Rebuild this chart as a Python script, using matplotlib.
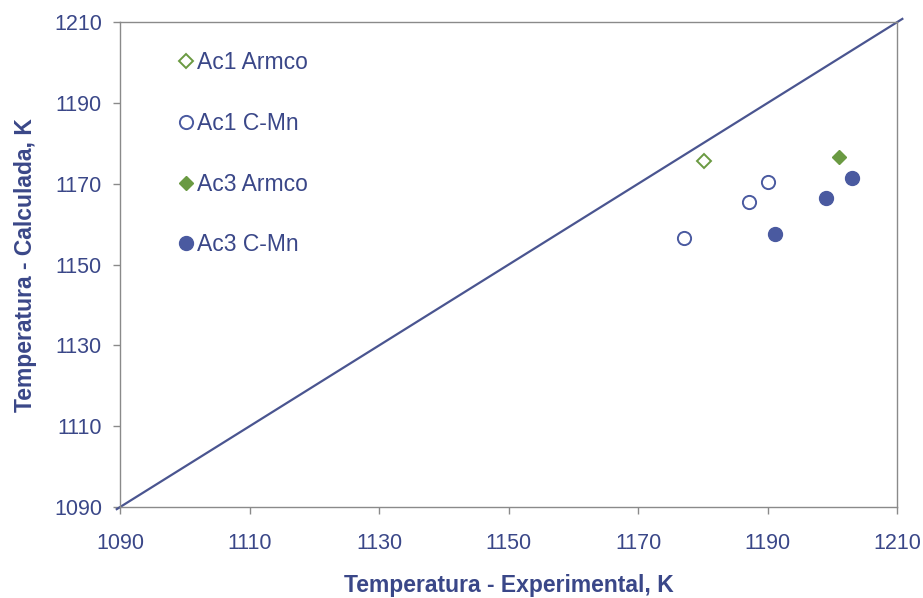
import numpy as np
import matplotlib
matplotlib.use("Agg")
import matplotlib.pyplot as plt

plt.rcParams['font.family'] = ['Liberation Sans', 'DejaVu Sans']

# data (K)
ac1_armco_x = [1180.2]
ac1_armco_y = [1175.6]
ac1_cmn_x = [1177.1, 1187.1, 1190.1]
ac1_cmn_y = [1156.6, 1165.5, 1170.5]
ac3_armco_x = [1201.0]
ac3_armco_y = [1176.6]
ac3_cmn_x = [1191.2, 1199.0, 1203.0]
ac3_cmn_y = [1157.6, 1166.5, 1171.5]
ticks = [1090, 1110, 1130, 1150, 1170, 1190, 1210]

navy = '#3a4788'
green = '#6a9a42'
blue = '#4a5aa0'
gray = '#8a8a8a'

fig = plt.figure(figsize=(9.23, 5.98), dpi=100)
ax = fig.add_axes([0.130, 0.152, 0.842, 0.811])

# 1:1 line
ax.plot([1089.5, 1210.8], [1089.5, 1210.8], color='#4a5590', lw=1.6,
        clip_on=False, zorder=2)

ax.plot(ac1_armco_x, ac1_armco_y, 'D', ms=7.5, mfc='white', mec=green,
        mew=1.4, ls='none', label='Ac1 Armco', zorder=3)
ax.plot(ac1_cmn_x, ac1_cmn_y, 'o', ms=9.5, mfc='white', mec=blue,
        mew=1.4, ls='none', label='Ac1 C-Mn', zorder=3)
ax.plot(ac3_armco_x, ac3_armco_y, 'D', ms=7.5, mfc=green, mec=green,
        ls='none', label='Ac3 Armco', zorder=3)
ax.plot(ac3_cmn_x, ac3_cmn_y, 'o', ms=10, mfc=blue, mec=blue,
        ls='none', label='Ac3 C-Mn', zorder=3)

ax.set_xlim(1090, 1210)
ax.set_ylim(1090, 1210)
ax.set_xticks(ticks)
ax.set_yticks(ticks)
ax.tick_params(direction='out', length=5, width=1, color=gray,
               labelsize=15.5, labelcolor=navy)
ax.tick_params(axis='x', pad=14)
ax.tick_params(axis='y', pad=8)
for s in ax.spines.values():
    s.set_color(gray)
    s.set_linewidth(1)

ax.set_xlabel('Temperatura - Experimental, K', fontsize=16.5,
              fontweight='bold', color=navy, labelpad=14)
ax.set_ylabel('Temperatura - Calculada, K', fontsize=16.5,
              fontweight='bold', color=navy, labelpad=12)

leg = ax.legend(loc='upper left', bbox_to_anchor=(0.049, 0.982),
                frameon=False, fontsize=16.5, handlelength=0.6,
                handletextpad=0.2, labelspacing=1.64, labelcolor=navy)

plt.savefig('out.png', dpi=100)
